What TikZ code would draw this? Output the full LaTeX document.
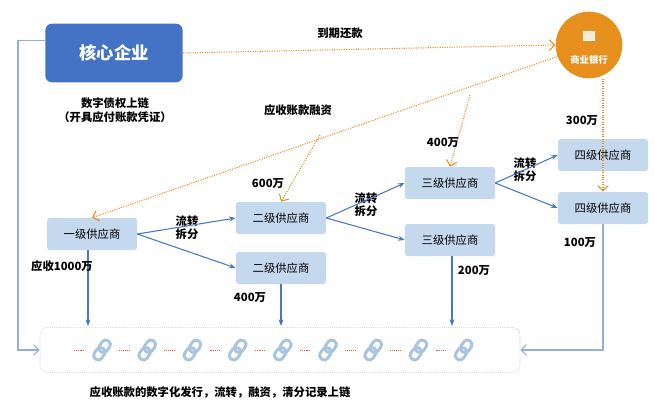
\documentclass[tikz,border=0pt]{standalone}
\usepackage{fontspec}
\setmainfont{Noto Sans CJK SC}
\usetikzlibrary{arrows.meta}
\definecolor{coreblue}{HTML}{4472C4}
\definecolor{bankorange}{HTML}{E8901E}
\definecolor{boxblue}{HTML}{C5D9EE}
\definecolor{lineblue}{HTML}{4A78C0}
\definecolor{linkblue}{HTML}{A9C4DD}
\begin{document}
\begin{tikzpicture}[x=0.75pt,y=-0.75pt,
% common options for supplier boxes:
supbox/.style = {rectangle, rounded corners=2pt, fill=boxblue, minimum width=67.5pt,
            minimum height=24pt, font=\fontsize{8.5}{9}\selectfont, inner sep=0},
% solid blue flows and dashed orange money:
flow/.style = {draw=lineblue, thick, -{Stealth[length=5pt]}},
money/.style = {draw=bankorange, densely dotted, thick, -{Straight Barb[length=4pt]}},
lbl/.style = {font=\fontsize{8.5}{10}\selectfont\bfseries, align=center, inner sep=1pt}]
\useasboundingbox (0,0) rectangle (655,410);
\node[rectangle, rounded corners=5pt, fill=coreblue, minimum width=103pt, minimum height=44pt,
      text=white, font=\fontsize{13}{14}\selectfont\bfseries] (core) at (114,53) {核心企业};
\node[circle, fill=bankorange, minimum size=50pt, inner sep=0] (bank) at (589,45) {};
\node[text=white, font=\fontsize{7}{8}\selectfont\bfseries, inner sep=0] (banktxt) at (589,60) {商业银行};
\node[draw=white, fill=white!80!bankorange, minimum width=8pt, minimum height=7pt, inner sep=0] (icon) at (589,36) {};
\node[lbl] (t1) at (115,103) {数字债权上链};
\node[lbl] (t2) at (115,117) {（开具应付账款凭证）};
\node[lbl] (pay) at (340,33) {到期还款};
\node[lbl] (fin) at (298,110) {应收账款融资};
\node[supbox] (s1) at (92,234) {一级供应商};
\node[supbox] (s2a) at (281,218) {二级供应商};
\node[supbox] (s2b) at (281,268) {二级供应商};
\node[supbox] (s3a) at (450,183) {三级供应商};
\node[supbox] (s3b) at (450,240) {三级供应商};
\node[supbox] (s4a) at (603,155) {四级供应商};
\node[supbox] (s4b) at (603,208) {四级供应商};
\node[lbl] (sp1) at (187,228) {流转\\拆分};
\node[lbl] (sp2) at (366,205) {流转\\拆分};
\node[lbl] (sp3) at (525,170) {流转\\拆分};
\draw[flow] (s1.east) -- (s2a.west);
\draw[flow] (s1.east) -- (s2b.west);
\draw[flow] (s2a.east) -- (s3a.west);
\draw[flow] (s2a.east) -- (s3b.west);
\draw[flow] (s3a.east) -- (s4a.west);
\draw[flow] (s3a.east) -- (s4b.west);
% money
\coordinate (m2) at (320,135);
\coordinate (m3) at (470,95);
\draw[money] (core.east) -- (bank.west);
\draw[money] (bank.200) -- (s1.north);
\draw[money] (m2) -- (s2a.north);
\draw[money] (m3) -- (s3a.north);
\draw[money] (bank.south -| s4b.north) -- (s4b.north);
\node[lbl] (v600) at (268,184) {600万};
\node[lbl] (v400a) at (443,143) {400万};
\node[lbl] (v300) at (582,121) {300万};
% chain
\node[draw=gray!70, densely dotted, rounded corners=6pt, minimum width=360pt, minimum height=34pt] (chain) at (280,350) {};
\foreach \i in {0,...,8} {
  \begin{scope}[shift={(102+45.2*\i,350)}, rotate=55]
    \draw[linkblue, line width=2.2pt, rounded corners=3pt] (-11,-4.5) rectangle (2,4.5);
    \draw[linkblue, line width=2.2pt, rounded corners=3pt] (-2,-4.5) rectangle (11,4.5);
  \end{scope}
  \draw[red!70, densely dotted] (74+45.2*\i,350) -- (84+45.2*\i,350);
}
\node[lbl] (bottom) at (220,392) {应收账款的数字化发行，流转，融资，清分记录上链};
\draw[flow] (s1.south -| 88,0) -- (88,326);
\draw[flow] (s2b.south) -- (281,326);
\draw[flow] (s3b.south -| 452,0) -- (452,326);
\draw[lineblue!60, thick, -{Straight Barb[length=4pt]}] (s4b.south) -- (603,350) -- (chain.east);
\draw[lineblue!60, thick, -{Straight Barb[length=4pt]}] (core.170) -| (18,350) -- (chain.west);
\node[lbl] (v1000) at (62,266) {应收1000万};
\node[lbl] (v400b) at (250,298) {400万};
\node[lbl] (v200) at (474,271) {200万};
\node[lbl] (v100) at (580,243) {100万};
\end{tikzpicture}
\end{document}
